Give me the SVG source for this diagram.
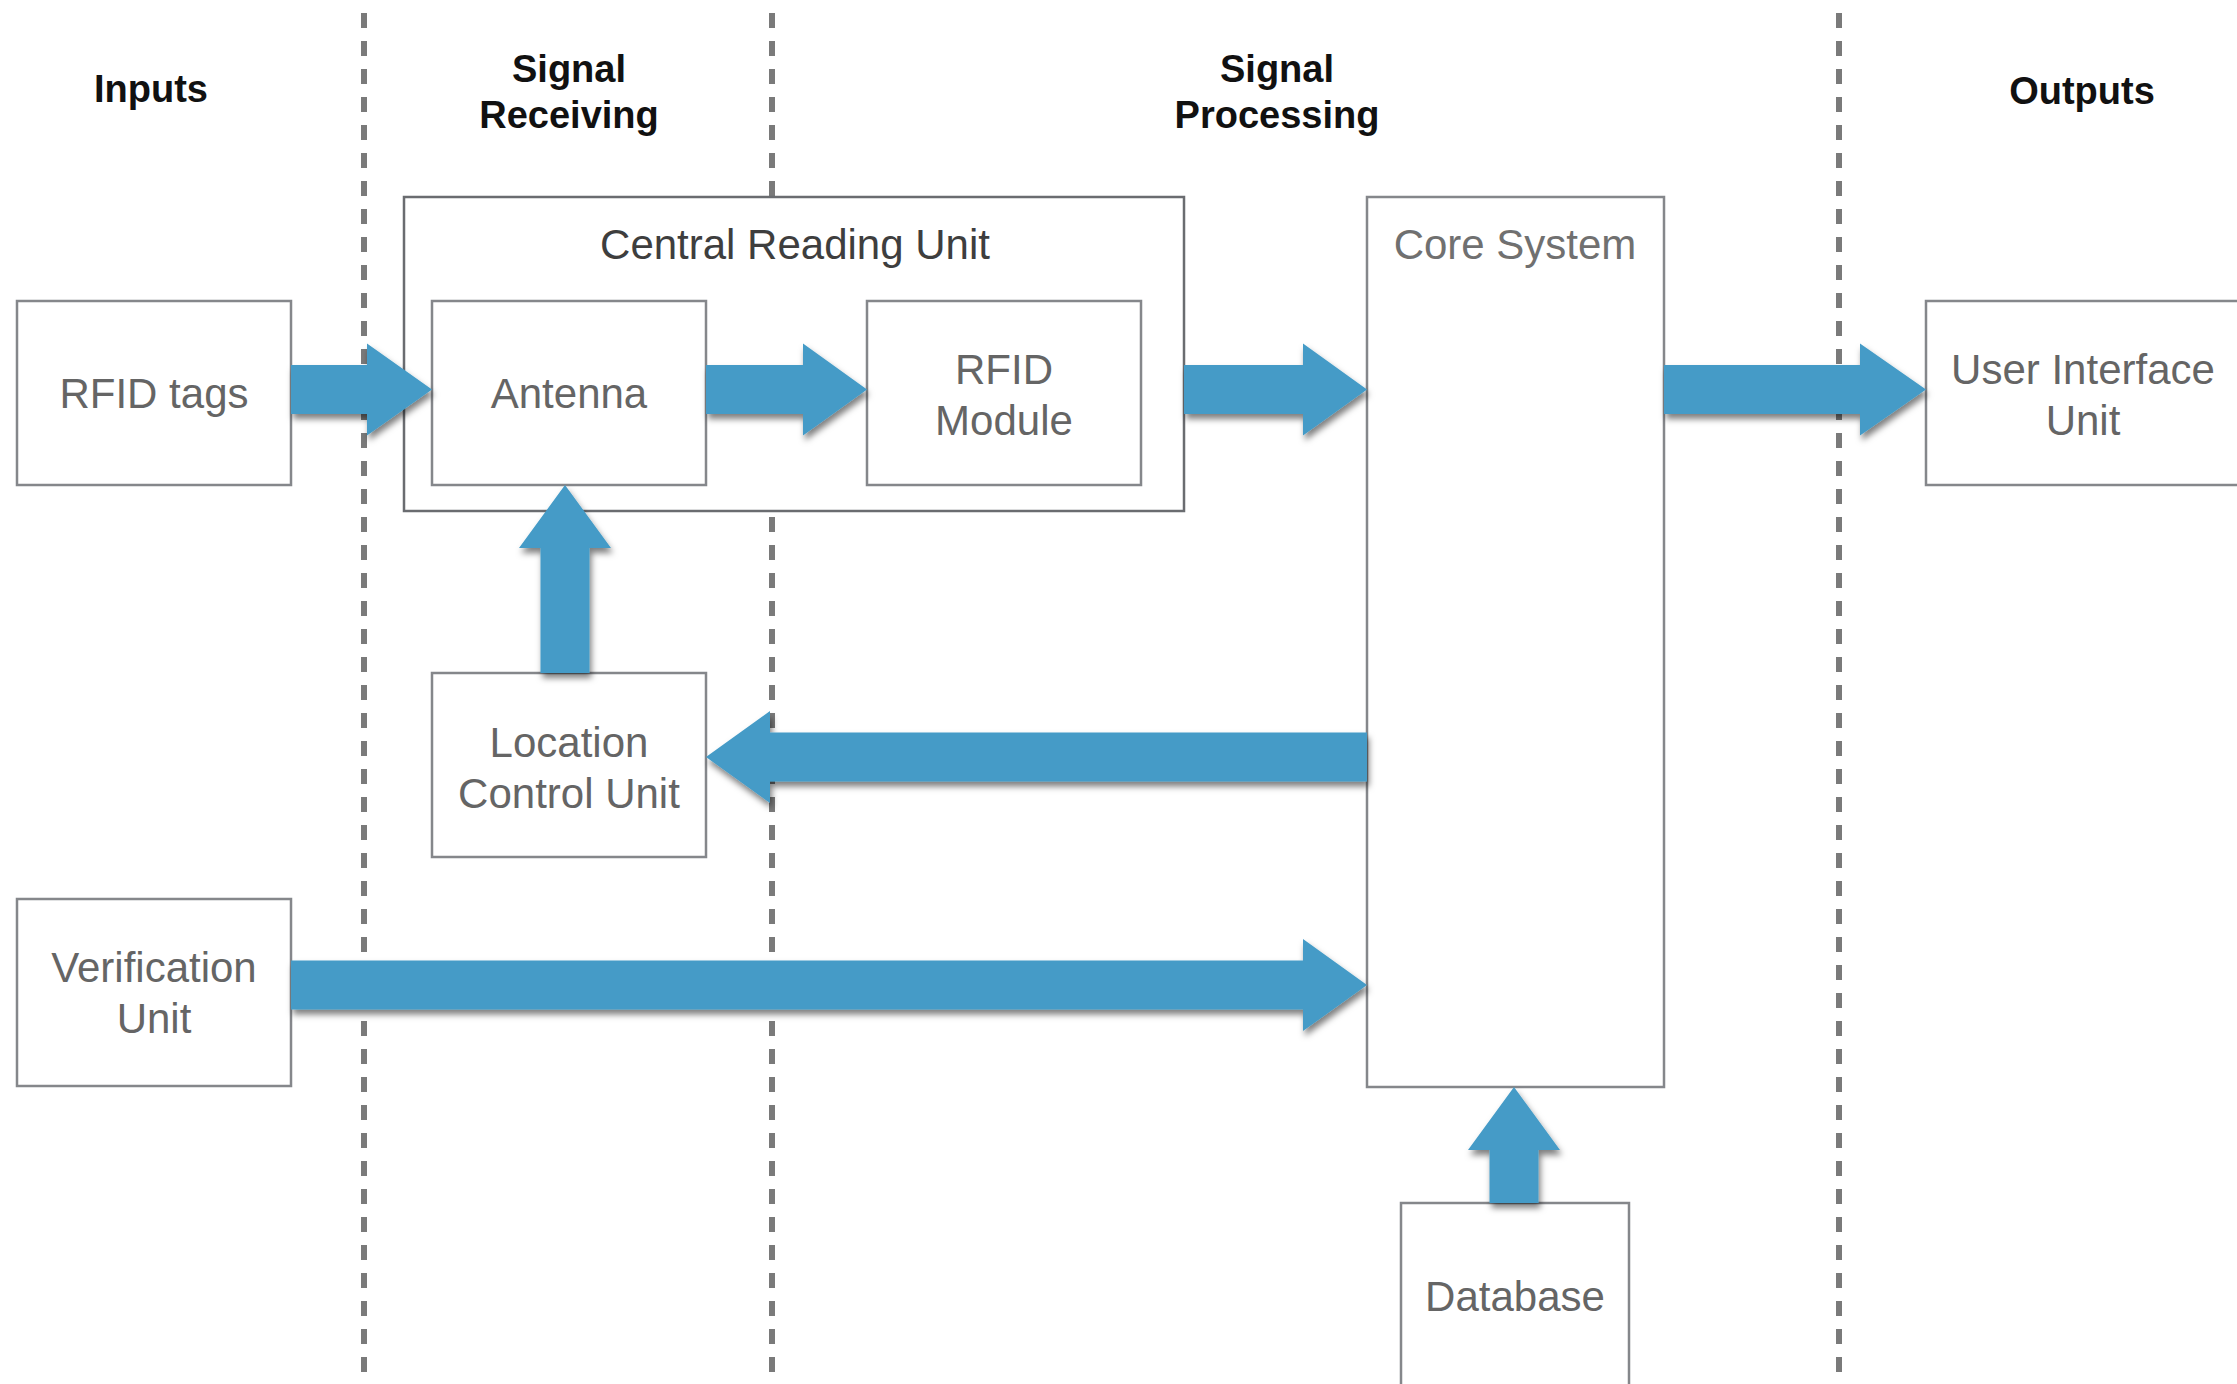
<svg xmlns="http://www.w3.org/2000/svg" width="2237" height="1384" viewBox="0 0 2237 1384">
<defs>
<style>
.hdr{font-family:"Liberation Sans",Arial,sans-serif;font-weight:bold;font-size:38px;fill:#111;text-anchor:middle}
.lbl{font-family:"Liberation Sans",Arial,sans-serif;font-size:42px;fill:#656565;text-anchor:middle}
.box{fill:#fff;stroke:#85878b;stroke-width:2.5}
.dash{stroke:#7a7a7a;stroke-width:6;stroke-dasharray:15 13;fill:none}
.arr{fill:#449bc7;filter:url(#sh)}
</style>
<filter id="sh" x="-20%" y="-30%" width="140%" height="170%">
<feDropShadow dx="2" dy="5" stdDeviation="3" flood-color="#000" flood-opacity="0.5"/>
</filter>
</defs>
<rect width="2237" height="1384" fill="#fff"/>
<g id="lanes">
<line class="dash" x1="364" y1="13" x2="364" y2="1384"/>
<line class="dash" x1="772" y1="13" x2="772" y2="1384"/>
<line class="dash" x1="1839" y1="13" x2="1839" y2="1384"/>
</g>
<g id="headers">
<text class="hdr" x="151" y="102">Inputs</text>
<text class="hdr" x="569" y="82">Signal</text>
<text class="hdr" x="569" y="128">Receiving</text>
<text class="hdr" x="1277" y="82">Signal</text>
<text class="hdr" x="1277" y="128">Processing</text>
<text class="hdr" x="2082" y="104">Outputs</text>
</g>
<g id="central-reading-unit">
<rect class="box" x="404" y="197" width="780" height="314" style="stroke:#6a6c70"/>
<text class="lbl" x="795" y="259" style="fill:#3e3e3e">Central Reading Unit</text>
</g>
<g id="rfid-tags">
<rect class="box" x="17" y="301" width="274" height="184"/>
<text class="lbl" x="154" y="408">RFID tags</text>
</g>
<g id="antenna">
<rect class="box" x="432" y="301" width="274" height="184"/>
<text class="lbl" x="569" y="408">Antenna</text>
</g>
<g id="rfid-module">
<rect class="box" x="867" y="301" width="274" height="184"/>
<text class="lbl" x="1004" y="384">RFID</text>
<text class="lbl" x="1004" y="435">Module</text>
</g>
<g id="core-system">
<rect class="box" x="1367" y="197" width="297" height="890"/>
<text class="lbl" x="1515" y="259" style="fill:#707070">Core System</text>
</g>
<g id="user-interface-unit">
<rect class="box" x="1926" y="301" width="340" height="184"/>
<text class="lbl" x="2083" y="384">User Interface</text>
<text class="lbl" x="2083" y="435">Unit</text>
</g>
<g id="location-control-unit">
<rect class="box" x="432" y="673" width="274" height="184"/>
<text class="lbl" x="569" y="757">Location</text>
<text class="lbl" x="569" y="808">Control Unit</text>
</g>
<g id="verification-unit">
<rect class="box" x="17" y="899" width="274" height="187"/>
<text class="lbl" x="154" y="982">Verification</text>
<text class="lbl" x="154" y="1033">Unit</text>
</g>
<g id="database">
<rect class="box" x="1401" y="1203" width="228" height="220"/>
<text class="lbl" x="1515" y="1311">Database</text>
</g>
<g id="connectors">
<polygon class="arr" points="291,365 367,365 367,343.5 432,389.5 367,435.5 367,414 291,414"/>
<polygon class="arr" points="706,365 803,365 803,343.5 867,389.5 803,435.5 803,414 706,414"/>
<polygon class="arr" points="1184,365 1303,365 1303,343.5 1367,389.5 1303,435.5 1303,414 1184,414"/>
<polygon class="arr" points="1664,365 1860,365 1860,343.5 1926,389.5 1860,435.5 1860,414 1664,414"/>
<polygon class="arr" points="540.5,673 540.5,548 519,548 565,485 611,548 589.5,548 589.5,673"/>
<polygon class="arr" points="1367,732.5 770,732.5 770,711 706,757 770,803 770,781.5 1367,781.5"/>
<polygon class="arr" points="291,960.5 1303,960.5 1303,939 1367,985 1303,1031 1303,1009.5 291,1009.5"/>
<polygon class="arr" points="1489.5,1203 1489.5,1150 1468,1150 1514,1087 1560,1150 1538.5,1150 1538.5,1203"/>
</g>
</svg>
